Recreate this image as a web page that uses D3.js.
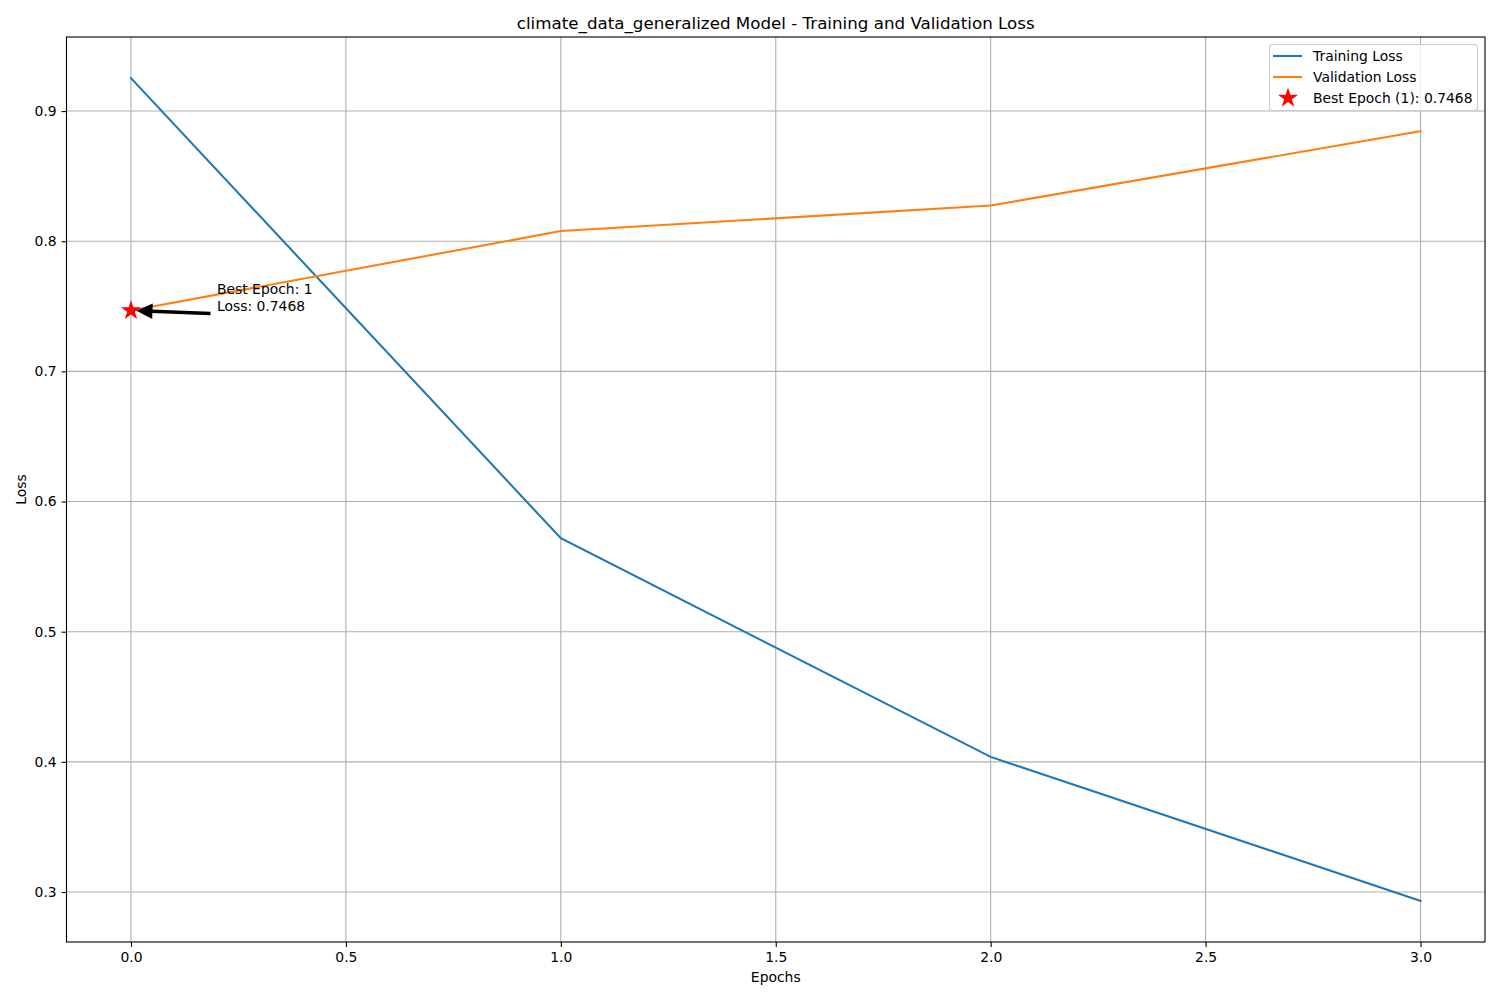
<!DOCTYPE html>
<html><head><meta charset="utf-8">
<script src="https://cdn.jsdelivr.net/npm/d3@7"></script>
<style>body{margin:0;background:#fff}svg{font-family:"DejaVu Sans",sans-serif}</style>
</head><body>
<svg id="c" width="1500" height="1000"></svg>
<script>
const epochs = [0, 1, 2, 3];
const trainLoss = [0.9253, 0.5718, 0.4038, 0.2932];
const valLoss = [0.7468, 0.8078, 0.8274, 0.8846];
const bestEpochIndex = 0;
const bestLoss = 0.7468;
const xTicks = [0.0, 0.5, 1.0, 1.5, 2.0, 2.5, 3.0];
const yTicks = [0.3, 0.4, 0.5, 0.6, 0.7, 0.8, 0.9];
const title = "climate_data_generalized Model - Training and Validation Loss";

const svg = d3.select("#c");
const L = 66.5, R = 1485, T = 37, B = 942;
const xs = d3.scaleLinear().domain([-0.15, 3.15]).range([L, R]);
const allY = trainLoss.concat(valLoss);
const ymin = d3.min(allY), ymax = d3.max(allY), pad = (ymax - ymin) * 0.05;
const ys = d3.scaleLinear().domain([ymin - pad, ymax + pad]).range([B, T]);

// grid
const g = svg.append("g");
g.selectAll(".gx").data(xTicks).enter().append("line")
  .attr("x1", d => xs(d)).attr("x2", d => xs(d)).attr("y1", T).attr("y2", B)
  .attr("stroke", "#b0b0b0").attr("stroke-width", 1.1);
g.selectAll(".gy").data(yTicks).enter().append("line")
  .attr("y1", d => ys(d)).attr("y2", d => ys(d)).attr("x1", L).attr("x2", R)
  .attr("stroke", "#b0b0b0").attr("stroke-width", 1.1);

// axes
const xAxis = d3.axisBottom(xs).tickValues(xTicks).tickFormat(d3.format(".1f")).tickSize(4.9).tickPadding(4.9);
const yAxis = d3.axisLeft(ys).tickValues(yTicks).tickFormat(d3.format(".1f")).tickSize(4.9).tickPadding(4.9);
const ax = svg.append("g").attr("transform", `translate(0,${B})`).call(xAxis);
const ay = svg.append("g").attr("transform", `translate(${L},0)`).call(yAxis);
[ax, ay].forEach(a => {
  a.select(".domain").remove();
  a.selectAll("text").attr("font-size", 13.9).attr("fill", "#000").attr("font-family", "DejaVu Sans");
  a.selectAll("line").attr("stroke", "#000").attr("stroke-width", 1.1);
});

// lines
const line = (arr) => d3.line().x((d, i) => xs(epochs[i])).y(d => ys(d))(arr);
svg.append("path").attr("d", line(trainLoss)).attr("fill", "none").attr("stroke", "#1f77b4").attr("stroke-width", 2.08).attr("stroke-linecap", "square");
svg.append("path").attr("d", line(valLoss)).attr("fill", "none").attr("stroke", "#ff7f0e").attr("stroke-width", 2.08).attr("stroke-linecap", "square");

const star = d3.symbol().type(d3.symbolStar).size(125);

// annotation arrow
const sx = xs(epochs[bestEpochIndex]), sy = ys(bestLoss);
const txt = xs(epochs[bestEpochIndex] + 0.2), tyt = ys(bestLoss - 0.0025);
const ang = Math.atan2(sy - tyt, sx - txt); // direction from text to star
const ux = Math.cos(ang), uy = Math.sin(ang);
const tx = txt + 6.5 * ux, ty = tyt + 6.5 * uy;
const headLen = 16, headW = 7.8;
const tipX = sx - 5.5 * ux, tipY = sy - 5.5 * uy;
const baseX = tipX - headLen * ux, baseY = tipY - headLen * uy;
const px = -uy, py = ux;
svg.append("line").attr("x1", tx).attr("y1", ty).attr("x2", baseX + 1 * ux).attr("y2", baseY + 1 * uy).attr("stroke", "#000").attr("stroke-width", 3.6);
svg.append("path").attr("d", `M${tipX},${tipY}L${baseX + px * headW},${baseY + py * headW}L${baseX - px * headW},${baseY - py * headW}Z`).attr("fill", "#000");
svg.append("text").attr("x", txt).attr("y", 294).attr("font-size", 13.9).text(`Best Epoch: ${bestEpochIndex + 1}`);
svg.append("text").attr("x", txt).attr("y", 311).attr("font-size", 13.9).text(`Loss: ${bestLoss.toFixed(4)}`);

// star on top
svg.append("path").attr("d", star()).attr("transform", `translate(${sx},${sy})`).attr("fill", "red");

// frame
svg.append("rect").attr("x", L).attr("y", T).attr("width", R - L).attr("height", B - T).attr("fill", "none").attr("stroke", "#000").attr("stroke-width", 1.1);

// title & labels
svg.append("text").attr("x", (L + R) / 2).attr("y", 29).attr("text-anchor", "middle").attr("font-size", 16.7).text(title);
svg.append("text").attr("x", (L + R) / 2).attr("y", 982).attr("text-anchor", "middle").attr("font-size", 13.9).text("Epochs");
svg.append("text").attr("transform", `translate(26,${(T + B) / 2}) rotate(-90)`).attr("text-anchor", "middle").attr("font-size", 13.9).text("Loss");

// legend
const lg = svg.append("g");
lg.append("rect").attr("x", 1269.5).attr("y", 44.5).attr("width", 208).attr("height", 66).attr("rx", 3)
  .attr("fill", "#fff").attr("fill-opacity", 0.8).attr("stroke", "#cccccc").attr("stroke-width", 1.1);
const items = [
  {label: "Training Loss", type: "line", color: "#1f77b4"},
  {label: "Validation Loss", type: "line", color: "#ff7f0e"},
  {label: `Best Epoch (${bestEpochIndex + 1}): ${bestLoss.toFixed(4)}`, type: "star", color: "red"}
];
items.forEach((it, i) => {
  const yy = 56 + i * 21;
  if (it.type === "line") {
    lg.append("line").attr("x1", 1273).attr("x2", 1302).attr("y1", yy).attr("y2", yy).attr("stroke", it.color).attr("stroke-width", 2.08);
  } else {
    lg.append("path").attr("d", star()).attr("transform", `translate(1288,${yy})`).attr("fill", it.color);
  }
  lg.append("text").attr("x", 1313).attr("y", yy + 5).attr("font-size", 13.9).text(it.label);
});
</script>
</body></html>
